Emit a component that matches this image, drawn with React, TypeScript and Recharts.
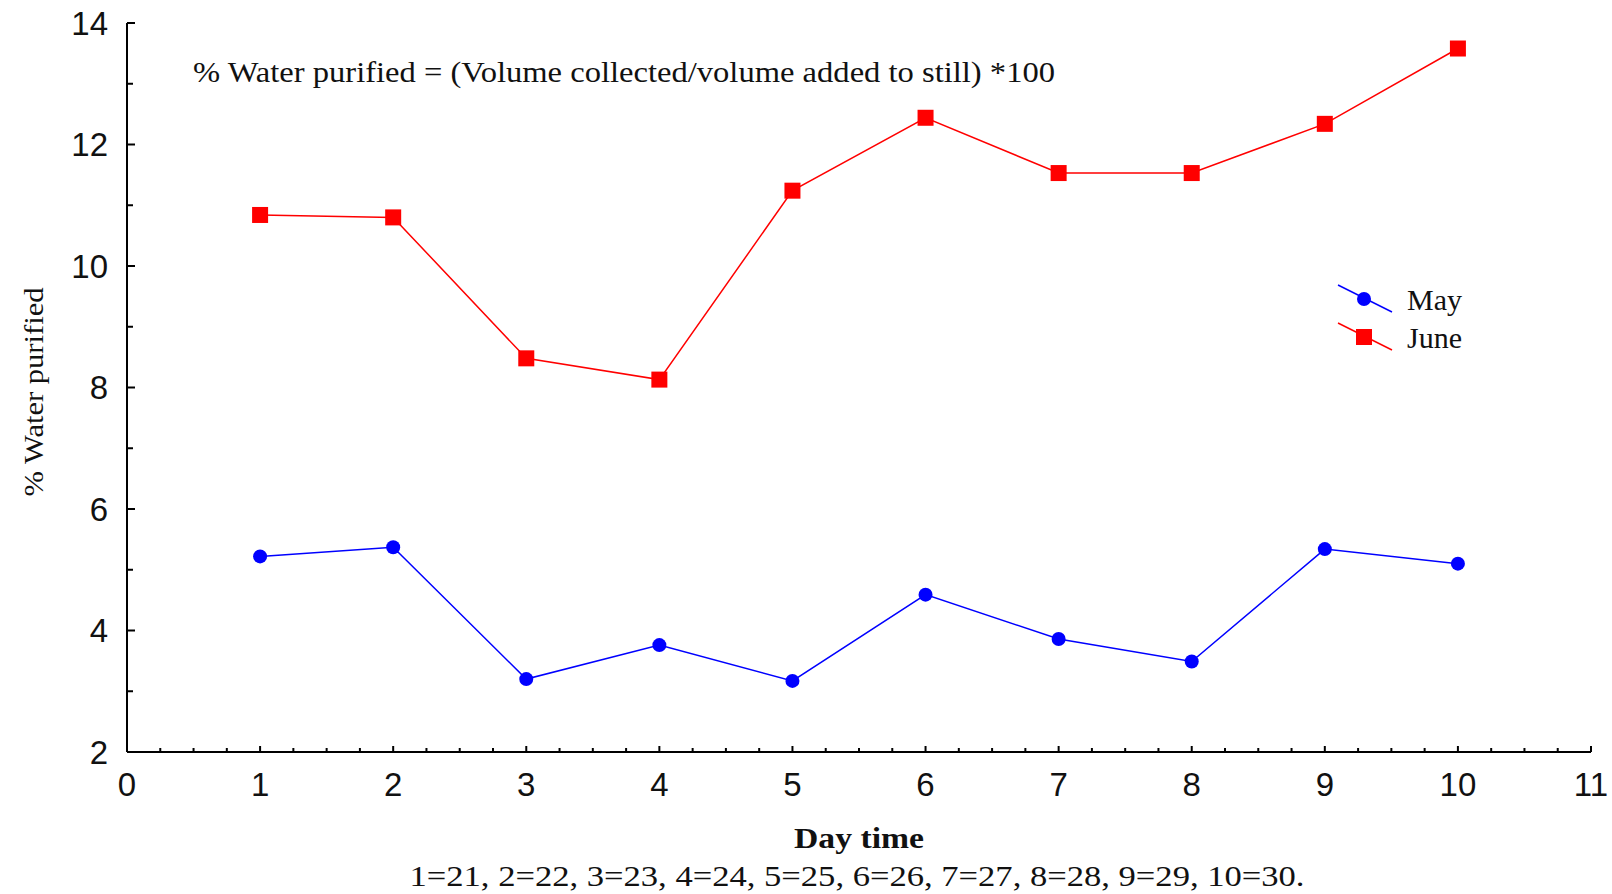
import { LineChart, Line, XAxis, YAxis, Legend } from "recharts";

const days = [1, 2, 3, 4, 5, 6, 7, 8, 9, 10];
const may = [5.22, 5.37, 3.2, 3.76, 3.17, 4.59, 3.86, 3.49, 5.34, 5.1];
const june = [10.84, 10.8, 8.48, 8.13, 11.24, 12.44, 11.53, 11.53, 12.34, 13.58];

const xLabels = [0, 1, 2, 3, 4, 5, 6, 7, 8, 9, 10, 11];
const yLabels = [2, 4, 6, 8, 10, 12, 14];
const legendOrder = ["may", "june"];

const data = days.map((d, i) => ({ day: d, may: may[i], june: june[i] }));

// quarter steps on the x axes, whole steps on the y axes
const xTicks: number[] = [];
for (let i = 0; i <= 44; i++) xTicks.push(i / 4);
const yTicks: number[] = [];
for (let v = 2; v <= 14; v++) yTicks.push(v);

const SANS = "'Liberation Sans', Arial, sans-serif";
const SERIF = "'Liberation Serif', 'Times New Roman', serif";
const INK = "#111";

const BottomTick = (props: any) => {
  const { x, y, payload } = props;
  const v = payload.value;
  const major = xLabels.includes(v);
  return (
    <g>
      <line x1={x} y1={y} x2={x} y2={y - (major ? 6 : 4)} stroke="#000" strokeWidth={2} />
      {major && (
        <text x={x} y={y + 32} textAnchor="middle" dominantBaseline="central" fontFamily={SANS} fontSize={33} fill={INK}>
          {v}
        </text>
      )}
    </g>
  );
};

const TopTick = (props: any) => {
  const { x, y } = props;
  return <line x1={x} y1={y} x2={x} y2={y + 5} stroke="#000" strokeWidth={2} />;
};

const LeftTick = (props: any) => {
  const { x, y, payload } = props;
  const v = payload.value;
  const major = yLabels.includes(v);
  return (
    <g>
      <line x1={x} y1={y} x2={x + (major ? 8 : 6)} y2={y} stroke="#000" strokeWidth={2} />
      {major && (
        <text x={x - 19} y={y} textAnchor="end" dominantBaseline="central" fontFamily={SANS} fontSize={33} fill={INK}>
          {v}
        </text>
      )}
    </g>
  );
};

const RightTick = (props: any) => {
  const { x, y } = props;
  return <line x1={x} y1={y} x2={x - 7} y2={y} stroke="#000" strokeWidth={2} />;
};

const MayDot = (props: any) => {
  const { cx, cy } = props;
  if (cx == null || cy == null) return null;
  return <circle cx={cx} cy={cy} r={7} fill="#0000ff" />;
};

const JuneDot = (props: any) => {
  const { cx, cy } = props;
  if (cx == null || cy == null) return null;
  return <rect x={cx - 8} y={cy - 8} width={16} height={16} fill="#ff0000" />;
};

const renderLegend = (props: any) => {
  const items = [...(props.payload || [])].sort(
    (a: any, b: any) => legendOrder.indexOf(a.dataKey) - legendOrder.indexOf(b.dataKey)
  );
  return (
    <svg width={160} height={80} style={{ display: "block" }}>
      {items.map((it: any, i: number) => {
        const cy = 24 + i * 38;
        const isMay = it.dataKey === "may";
        return (
          <g key={it.value}>
            <line x1={8} y1={cy - 14} x2={62} y2={cy + 13} stroke={it.color} strokeWidth={1.5} />
            {isMay ? (
              <circle cx={34} cy={cy} r={7} fill={it.color} />
            ) : (
              <rect x={26} y={cy - 8} width={16} height={16} fill={it.color} />
            )}
            <text x={77} y={cy} dominantBaseline="central" fontFamily={SERIF} fontSize={30} fill={INK}>
              {it.value}
            </text>
          </g>
        );
      })}
    </svg>
  );
};

export default function App() {
  return (
    <div style={{ position: "absolute", left: 0, top: 0, width: 1612, height: 894, background: "#fff" }}>
      <LineChart width={1612} height={894} data={data} margin={{ top: 23, right: 21, left: 27, bottom: 62 }}>
        <XAxis
          xAxisId="bottom"
          type="number"
          dataKey="day"
          domain={[0, 11]}
          ticks={xTicks}
          interval={0}
          tick={<BottomTick />}
          tickLine={false}
          tickSize={0}
          tickMargin={0}
          axisLine={{ stroke: "#000", strokeWidth: 2 }}
          height={80}
          allowDataOverflow
        />
        <XAxis
          xAxisId="top"
          orientation="top"
          type="number"
          dataKey="day"
          domain={[0, 11]}
          ticks={xTicks}
          interval={0}
          tick={<TopTick />}
          tickLine={false}
          tickSize={0}
          tickMargin={0}
          axisLine={{ stroke: "#000", strokeWidth: 2 }}
          height={0}
          allowDataOverflow
        />
        <YAxis
          yAxisId="left"
          type="number"
          domain={[2, 14]}
          ticks={yTicks}
          interval={0}
          tick={<LeftTick />}
          tickLine={false}
          tickSize={0}
          tickMargin={0}
          axisLine={{ stroke: "#000", strokeWidth: 2 }}
          width={100}
          allowDataOverflow
        />
        <YAxis
          yAxisId="right"
          orientation="right"
          type="number"
          domain={[2, 14]}
          ticks={yTicks}
          interval={0}
          tick={<RightTick />}
          tickLine={false}
          tickSize={0}
          tickMargin={0}
          axisLine={{ stroke: "#000", strokeWidth: 2 }}
          width={0}
          allowDataOverflow
        />
        <Legend
          content={renderLegend}
          layout="horizontal"
          align="center"
          verticalAlign="middle"
          wrapperStyle={{ left: 1330, top: 275, width: 160, height: 80 }}
        />
        <Line
          xAxisId="bottom"
          yAxisId="left"
          type="linear"
          dataKey="may"
          name="May"
          stroke="#0000ff"
          strokeWidth={1.5}
          dot={<MayDot />}
          activeDot={false}
          isAnimationActive={false}
        />
        <Line
          xAxisId="bottom"
          yAxisId="left"
          type="linear"
          dataKey="june"
          name="June"
          stroke="#ff0000"
          strokeWidth={1.5}
          dot={<JuneDot />}
          activeDot={false}
          isAnimationActive={false}
        />
        <text x={193} y={72} dominantBaseline="central" fontFamily={SERIF} fontSize={29} fill={INK} textLength={862} lengthAdjust="spacingAndGlyphs">
          % Water purified = (Volume collected/volume added to still) *100
        </text>
        <text
          x={33}
          y={392}
          transform="rotate(-90 33 392)"
          textAnchor="middle"
          dominantBaseline="central"
          fontFamily={SERIF}
          fontSize={28}
          fill={INK}
          textLength={209}
          lengthAdjust="spacingAndGlyphs"
        >
          % Water purified
        </text>
        <text x={859} y={838} textAnchor="middle" dominantBaseline="central" fontFamily={SERIF} fontWeight="bold" fontSize={29} fill={INK} textLength={130} lengthAdjust="spacingAndGlyphs">
          Day time
        </text>
        <text x={857} y={876} textAnchor="middle" dominantBaseline="central" fontFamily={SERIF} fontSize={29} fill={INK} textLength={895} lengthAdjust="spacingAndGlyphs">
          1=21, 2=22, 3=23, 4=24, 5=25, 6=26, 7=27, 8=28, 9=29, 10=30.
        </text>
      </LineChart>
    </div>
  );
}
